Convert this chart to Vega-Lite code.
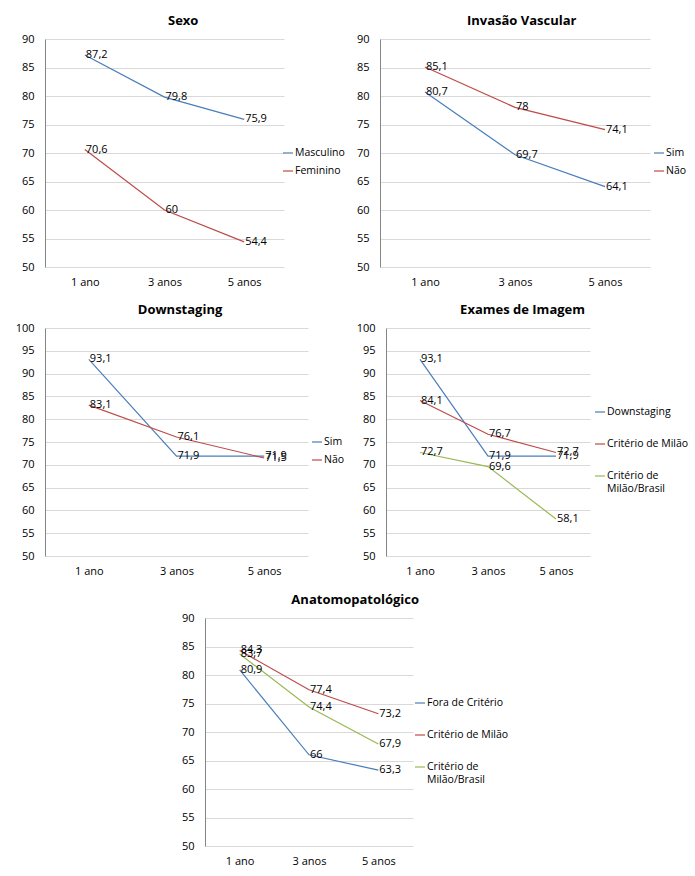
{
  "$schema": "https://vega.github.io/schema/vega-lite/v6.json",
  "padding": {"left": 15, "top": 15, "right": 5, "bottom": 5},
  "config": {
    "font": "Open Sans",
    "locale": {"number": {"decimal": ",", "thousands": ".", "grouping": [3], "currency": ["", ""]}},
    "view": {"stroke": null},
    "title": {"fontSize": 13, "fontWeight": "bold", "anchor": "middle", "frame": "bounds", "offset": 5, "color": "#000000"},
    "axisX": {"domain": false, "ticks": false, "grid": false, "labelPadding": 9, "labelAngle": 0, "labelFontSize": 11, "labelColor": "#000000", "title": null},
    "axisY": {"domainColor": "#868686", "ticks": false, "gridColor": "#d9d9d9", "labelPadding": 11, "labelFontSize": 11, "labelColor": "#000000", "title": null},
    "legend": {"orient": "none", "title": null, "symbolType": "stroke", "symbolSize": 100, "symbolStrokeWidth": 1.2, "labelFontSize": 10.5, "labelColor": "#000000", "rowPadding": 6, "labelOffset": 1},
    "line": {"strokeWidth": 1.2},
    "text": {"fontSize": 11, "align": "left", "baseline": "middle", "dx": 1, "color": "#000000"}
  },
  "resolve": {"scale": {"color": "independent"}, "legend": {"color": "independent"}},
  "center": true,
  "spacing": 18,
  "vconcat": [
    {
      "columns": 1,
      "align": "none",
      "spacing": 17,
      "resolve": {"scale": {"color": "independent"}, "legend": {"color": "independent"}},
      "concat": [
        {
          "hconcat": [
            {
              "title": "Sexo",
              "width": 239, "height": 228,
              "data": {"values": [
                {"serie": "Masculino", "ano": "1 ano", "valor": 87.2},
                {"serie": "Masculino", "ano": "3 anos", "valor": 79.8},
                {"serie": "Masculino", "ano": "5 anos", "valor": 75.9},
                {"serie": "Feminino", "ano": "1 ano", "valor": 70.6},
                {"serie": "Feminino", "ano": "3 anos", "valor": 60},
                {"serie": "Feminino", "ano": "5 anos", "valor": 54.4}
              ]},
              "encoding": {
                "x": {"field": "ano", "type": "ordinal", "sort": ["1 ano", "3 anos", "5 anos"], "scale": {"type": "point", "padding": 0.5}},
                "y": {"field": "valor", "type": "quantitative", "scale": {"domain": [50, 90], "nice": false, "zero": false}, "axis": {"values": [50, 55, 60, 65, 70, 75, 80, 85, 90]}}
              },
              "layer": [
                {"mark": {"type": "line"}, "encoding": {"color": {"field": "serie", "type": "nominal", "scale": {"domain": ["Masculino", "Feminino"], "range": ["#4A7EBB", "#BE4B48"]}, "legend": {"legendX": 237, "legendY": 108}}}},
                {"mark": {"type": "text"}, "encoding": {"text": {"field": "valor", "type": "quantitative", "format": "~g"}, "detail": {"field": "serie"}}}
              ]
            },
            {
              "title": "Invasão Vascular",
              "width": 270, "height": 228,
              "data": {"values": [
                {"serie": "Sim", "ano": "1 ano", "valor": 80.7},
                {"serie": "Sim", "ano": "3 anos", "valor": 69.7},
                {"serie": "Sim", "ano": "5 anos", "valor": 64.1},
                {"serie": "Não", "ano": "1 ano", "valor": 85.1},
                {"serie": "Não", "ano": "3 anos", "valor": 78},
                {"serie": "Não", "ano": "5 anos", "valor": 74.1}
              ]},
              "encoding": {
                "x": {"field": "ano", "type": "ordinal", "sort": ["1 ano", "3 anos", "5 anos"], "scale": {"type": "point", "padding": 0.5}},
                "y": {"field": "valor", "type": "quantitative", "scale": {"domain": [50, 90], "nice": false, "zero": false}, "axis": {"values": [50, 55, 60, 65, 70, 75, 80, 85, 90]}}
              },
              "layer": [
                {"mark": {"type": "line"}, "encoding": {"color": {"field": "serie", "type": "nominal", "scale": {"domain": ["Sim", "Não"], "range": ["#4A7EBB", "#BE4B48"]}, "legend": {"legendX": 273, "legendY": 108}}}},
                {"mark": {"type": "text"}, "encoding": {"text": {"field": "valor", "type": "quantitative", "format": "~g"}, "detail": {"field": "serie"}}}
              ]
            }
          ],
          "spacing": 11,
          "resolve": {"scale": {"color": "independent"}, "legend": {"color": "independent"}}
        },
        {
          "hconcat": [
            {
              "title": "Downstaging",
              "width": 263, "height": 228,
              "data": {"values": [
                {"serie": "Sim", "ano": "1 ano", "valor": 93.1},
                {"serie": "Sim", "ano": "3 anos", "valor": 71.9},
                {"serie": "Sim", "ano": "5 anos", "valor": 71.9},
                {"serie": "Não", "ano": "1 ano", "valor": 83.1},
                {"serie": "Não", "ano": "3 anos", "valor": 76.1},
                {"serie": "Não", "ano": "5 anos", "valor": 71.5}
              ]},
              "encoding": {
                "x": {"field": "ano", "type": "ordinal", "sort": ["1 ano", "3 anos", "5 anos"], "scale": {"type": "point", "padding": 0.5}},
                "y": {"field": "valor", "type": "quantitative", "scale": {"domain": [50, 100], "nice": false, "zero": false}, "axis": {"values": [50, 55, 60, 65, 70, 75, 80, 85, 90, 95, 100]}}
              },
              "layer": [
                {"mark": {"type": "line"}, "encoding": {"color": {"field": "serie", "type": "nominal", "scale": {"domain": ["Sim", "Não"], "range": ["#4A7EBB", "#BE4B48"]}, "legend": {"legendX": 266, "legendY": 108}}}},
                {"mark": {"type": "text"}, "encoding": {"text": {"field": "valor", "type": "quantitative", "format": "~g"}, "detail": {"field": "serie"}}}
              ]
            },
            {
              "title": "Exames de Imagem",
              "width": 204, "height": 228,
              "data": {"values": [
                {"serie": "Downstaging", "ano": "1 ano", "valor": 93.1},
                {"serie": "Downstaging", "ano": "3 anos", "valor": 71.9},
                {"serie": "Downstaging", "ano": "5 anos", "valor": 71.9},
                {"serie": "Critério de Milão", "ano": "1 ano", "valor": 84.1},
                {"serie": "Critério de Milão", "ano": "3 anos", "valor": 76.7},
                {"serie": "Critério de Milão", "ano": "5 anos", "valor": 72.7},
                {"serie": "Critério de Milão/Brasil", "ano": "1 ano", "valor": 72.7},
                {"serie": "Critério de Milão/Brasil", "ano": "3 anos", "valor": 69.6},
                {"serie": "Critério de Milão/Brasil", "ano": "5 anos", "valor": 58.1}
              ]},
              "encoding": {
                "x": {"field": "ano", "type": "ordinal", "sort": ["1 ano", "3 anos", "5 anos"], "scale": {"type": "point", "padding": 0.5}},
                "y": {"field": "valor", "type": "quantitative", "scale": {"domain": [50, 100], "nice": false, "zero": false}, "axis": {"values": [50, 55, 60, 65, 70, 75, 80, 85, 90, 95, 100]}}
              },
              "layer": [
                {"mark": {"type": "line"}, "encoding": {"color": {"field": "serie", "type": "nominal", "scale": {"domain": ["Downstaging", "Critério de Milão", "Critério de Milão/Brasil"], "range": ["#4A7EBB", "#BE4B48", "#98B954"]}, "legend": {"legendX": 208, "legendY": 78, "rowPadding": 20, "labelExpr": "datum.label == 'Critério de Milão/Brasil' ? ['Critério de', 'Milão/Brasil'] : datum.label"}}}},
                {"mark": {"type": "text"}, "encoding": {"text": {"field": "valor", "type": "quantitative", "format": "~g"}, "detail": {"field": "serie"}}}
              ]
            }
          ],
          "spacing": 11,
          "resolve": {"scale": {"color": "independent"}, "legend": {"color": "independent"}}
        }
      ]
    },
    {
      "title": "Anatomopatológico",
      "width": 208, "height": 228,
      "data": {"values": [
        {"serie": "Fora de Critério", "ano": "1 ano", "valor": 80.9},
        {"serie": "Fora de Critério", "ano": "3 anos", "valor": 66},
        {"serie": "Fora de Critério", "ano": "5 anos", "valor": 63.3},
        {"serie": "Critério de Milão", "ano": "1 ano", "valor": 84.3},
        {"serie": "Critério de Milão", "ano": "3 anos", "valor": 77.4},
        {"serie": "Critério de Milão", "ano": "5 anos", "valor": 73.2},
        {"serie": "Critério de Milão/Brasil", "ano": "1 ano", "valor": 83.7},
        {"serie": "Critério de Milão/Brasil", "ano": "3 anos", "valor": 74.4},
        {"serie": "Critério de Milão/Brasil", "ano": "5 anos", "valor": 67.9}
      ]},
      "encoding": {
        "x": {"field": "ano", "type": "ordinal", "sort": ["1 ano", "3 anos", "5 anos"], "scale": {"type": "point", "padding": 0.5}},
        "y": {"field": "valor", "type": "quantitative", "scale": {"domain": [50, 90], "nice": false, "zero": false}, "axis": {"values": [50, 55, 60, 65, 70, 75, 80, 85, 90]}}
      },
      "layer": [
        {"mark": {"type": "line"}, "encoding": {"color": {"field": "serie", "type": "nominal", "scale": {"domain": ["Fora de Critério", "Critério de Milão", "Critério de Milão/Brasil"], "range": ["#4A7EBB", "#BE4B48", "#98B954"]}, "legend": {"legendX": 189, "legendY": 59, "padding": 20, "rowPadding": 20, "labelExpr": "datum.label == 'Critério de Milão/Brasil' ? ['Critério de', 'Milão/Brasil'] : datum.label"}}}},
        {"mark": {"type": "text"}, "encoding": {"text": {"field": "valor", "type": "quantitative", "format": "~g"}, "detail": {"field": "serie"}}}
      ]
    }
  ]
}
